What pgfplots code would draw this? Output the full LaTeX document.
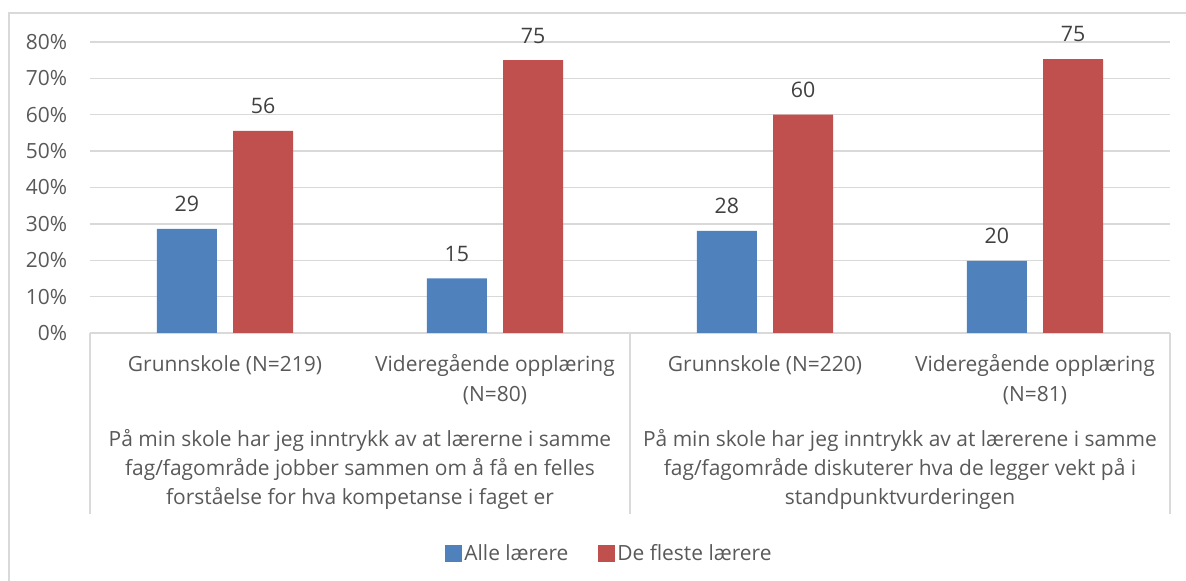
\documentclass[border=0pt]{standalone}
\usepackage{fontspec}
\setmainfont{Open Sans}
\usepackage{pgfplots}
\pgfplotsset{compat=1.18}
\definecolor{blueA}{HTML}{4F81BD}
\definecolor{redB}{HTML}{C0504D}
\definecolor{txt}{HTML}{595959}
\definecolor{lbl}{HTML}{404040}
\definecolor{gridc}{HTML}{D9D9D9}
\newcommand{\lfont}{\fontsize{15.7}{18}\selectfont}

\begin{document}
\begin{tikzpicture}
% pixel frame of the reference: (X,Y) with Y downwards
\begin{scope}[x=0.75pt,y=-0.75pt,shift={(-67.5pt,249.75pt)}]
  \useasboundingbox (0,0) rectangle (1186,581);
  \draw[gridc,line width=1.5pt] (9,13) rectangle (1200,600);
\end{scope}
\begin{axis}[at={(0,0)},anchor=south west,
  scale only axis, width=810pt, height=218.25pt,
  xmin=-0.5, xmax=3.5, ymin=0, ymax=80,
  ybar=12.2pt, bar width=45pt,
  xtick=\empty,
  ytick={0,10,20,30,40,50,60,70,80},
  yticklabels={0\%,10\%,20\%,30\%,40\%,50\%,60\%,70\%,80\%},
  ymajorgrids, grid style={draw=gridc,line width=1pt},
  axis line style={draw=none}, major tick length=0pt,
  yticklabel style={font=\lfont, text=txt, inner sep=0pt, xshift=-17pt},
  nodes near coords={\pgfmathprintnumber[fixed,precision=0,assume math mode=true]{\pgfplotspointmeta}},
  nodes near coords style={font=\fontsize{16}{18}\selectfont, text=lbl, inner sep=0pt, anchor=south, yshift=12.5pt},
  legend columns=2,
  legend style={draw=none, fill=none, at={(0.481,-0.758)}, anchor=center,
    font=\lfont, text=txt, /tikz/every even column/.append style={column sep=20pt}},
  clip=false]
  \addplot[fill=blueA, draw=none,
    legend image code/.code={\fill[blueA] (0pt,-6.4pt) rectangle (12.75pt,6.4pt);}]
    coordinates {(0,28.6) (1,15.0) (2,28.1) (3,19.8)};
  \addlegendentry{Alle lærere}
  \addplot[fill=redB, draw=none,
    legend image code/.code={\fill[redB] (0pt,-6.4pt) rectangle (12.75pt,6.4pt);}]
    coordinates {(0,55.6) (1,75.0) (2,60.0) (3,75.3)};
  \addlegendentry{De fleste lærere}
\end{axis}
\begin{scope}[x=0.75pt,y=-0.75pt,shift={(-67.5pt,249.75pt)},
  lab/.style={font=\lfont, text=txt, anchor=base, inner sep=0pt}]
  \draw[gridc,line width=1.2pt] (90,333) -- (90,514) (630,333) -- (630,514) (1170,333) -- (1170,514);
  \node[lab] at (225,372) {Grunnskole (N=219)};
  \node[lab] at (495,372) {Videregående opplæring};
  \node[lab] at (495,402) {(N=80)};
  \node[lab] at (765,372) {Grunnskole (N=220)};
  \node[lab] at (1035,372) {Videregående opplæring};
  \node[lab] at (1035,402) {(N=81)};
  \node[lab] at (360,447) {På min skole har jeg inntrykk av at lærerne i samme};
  \node[lab] at (360,476) {fag/fagområde jobber sammen om å få en felles};
  \node[lab] at (360,505) {forståelse for hva kompetanse i faget er};
  \node[lab] at (900,447) {På min skole har jeg inntrykk av at lærerene i samme};
  \node[lab] at (900,476) {fag/fagområde diskuterer hva de legger vekt på i};
  \node[lab] at (900,505) {standpunktvurderingen};
\end{scope}
\end{tikzpicture}
\end{document}
